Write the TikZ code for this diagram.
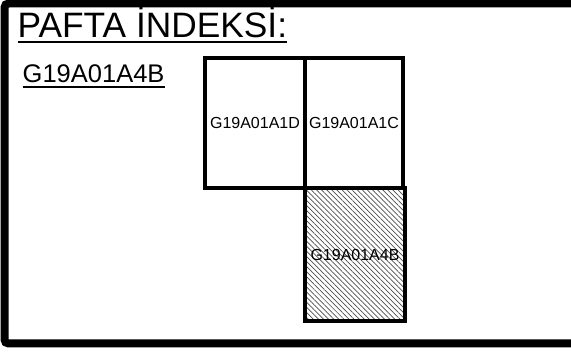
\documentclass[tikz,border=0pt]{standalone}
\usepackage{fontspec}
\setmainfont{Liberation Sans}
\usetikzlibrary{patterns.meta}
\tikzset{sheet/.style = {draw, line width = 3.5, inner sep = 0, font = \fontsize{16}{18}\selectfont}}
\tikzset{uline/.style = {line width = 2}}

\begin{document}
\begin{tikzpicture}[x = 1pt, y = -1pt]
    \useasboundingbox (0, 0) rectangle (571, 352);
    \begin{scope}
      \clip (0, 0) rectangle (571, 352);
      \draw [line width = 8, rounded corners = 4] (600, 3.5) -- (4.5, 3.5) -- (4.5, 343.5) -- (600, 343.5);
    \end{scope}

    \node [anchor = base west, inner sep = 0, font = \fontsize{35.3}{40}\selectfont] (title) at (17.5, 38) {PAFTA İNDEKSİ:};
    \draw [uline] ([yshift = -4.5]title.base west) -- ([yshift = -4.5]title.base east);

    \node [anchor = base west, inner sep = 0, font = \fontsize{25.5}{30}\selectfont] (sheet) at (22.5, 83) {G19A01A4B};
    \draw [uline, line width = 1.6] ([yshift = -4]sheet.base west) -- ([yshift = -4]sheet.base east);

    \node [sheet, minimum width = 100, minimum height = 130] (d) at (255, 123) {G19A01A1D};
    \node [sheet, minimum width = 98, minimum height = 130] (c) at (354, 123) {G19A01A1C};
    \node [sheet, pattern = {Lines[angle = -45, distance = 3.6pt, line width = 0.7pt]}, pattern color = black!70,
           minimum width = 100, minimum height = 133] (b) at (355, 254.5) {G19A01A4B};
  \end{tikzpicture}
\end{document}
